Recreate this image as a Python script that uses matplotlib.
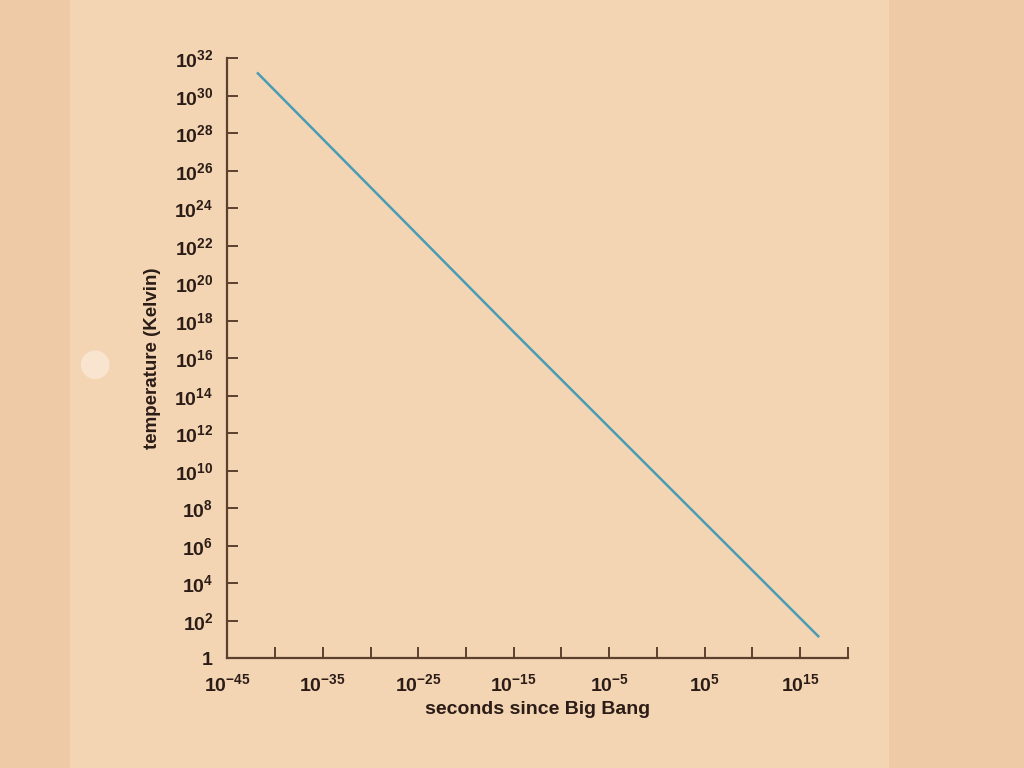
"""
Temperatur des Universums über der Zeit seit dem Urknall (log-log)
"""

import numpy as np
import matplotlib
matplotlib.use("Agg")
import matplotlib.pyplot as plt
from matplotlib.patches import Rectangle, Ellipse

# *************************************************************
# Daten
# *************************************************************
seconds = [10 ** -41.8, 10 ** -15.0, 10 ** 16.9]
kelvin = [10 ** 31.2, 10 ** 17.4, 10 ** 1.17]

xTickExp = list(range(-45, 21, 5))
xLabelExp = [-45, -35, -25, -15, -5, 5, 15]
yTickExp = list(range(0, 33, 2))

xLabel = 'seconds since Big Bang'
yLabel = 'temperature (Kelvin)'

# *************************************************************
# Stil
# *************************************************************
plt.rcParams['font.family'] = ['Liberation Sans', 'DejaVu Sans']
plt.rcParams['mathtext.fontset'] = 'custom'
plt.rcParams['mathtext.rm'] = 'Liberation Sans'
plt.rcParams['mathtext.bf'] = 'Liberation Sans:bold'

paper = '#f3d5b4'
back = '#eecba6'
ink = '#2b1c16'
axisCol = '#5b4030'
lineCol = '#4a9cb4'

fig = plt.figure(figsize=(10.24, 7.68), dpi=100, facecolor=back)

# Papierblatt und Lochung
fig.patches.append(Rectangle((0.068, 0.0), 0.80, 1.0, transform=fig.transFigure,
                             facecolor=paper, edgecolor='none', zorder=0))
fig.patches.append(Ellipse((0.093, 0.525), 0.028, 0.028 * 1024 / 768, transform=fig.transFigure,
                           facecolor='#f9e4cf', edgecolor='none', zorder=0))

ax = fig.add_axes([0.222, 0.143, 0.606, 0.781])
ax.set_facecolor('none')
ax.set_zorder(2)

ax.plot(seconds, kelvin, color=lineCol, lw=1.8)

ax.set_xscale('log')
ax.set_yscale('log')
ax.set_xlim(1e-45, 1e20)
ax.set_ylim(1, 1e32)

# Achsen
for s in ['top', 'right']:
    ax.spines[s].set_visible(False)
for s in ['left', 'bottom']:
    ax.spines[s].set_color(axisCol)
    ax.spines[s].set_linewidth(1.6)

ax.set_xticks([10.0 ** e for e in xTickExp])
ax.set_xticklabels([r'$\mathbf{10^{%d}}$' % e if e in xLabelExp else '' for e in xTickExp])
ax.xaxis.set_minor_locator(matplotlib.ticker.NullLocator())

ax.set_yticks([10.0 ** e for e in yTickExp])
ax.set_yticklabels([r'$\mathbf{1}$' if e == 0 else r'$\mathbf{10^{%d}}$' % e for e in yTickExp])
ax.yaxis.set_minor_locator(matplotlib.ticker.NullLocator())

ax.tick_params(axis='both', direction='in', length=8, width=1.4, color=axisCol,
               labelcolor=ink, labelsize=14)
ax.tick_params(axis='y', pad=10)
ax.tick_params(axis='x', pad=11)

ax.set_xlabel(xLabel, fontsize=14, fontweight='bold', color=ink, labelpad=4)
ax.set_ylabel(yLabel, fontsize=13.5, fontweight='bold', color=ink, labelpad=10)

fig.savefig('out.png', dpi=100, facecolor=fig.get_facecolor())
